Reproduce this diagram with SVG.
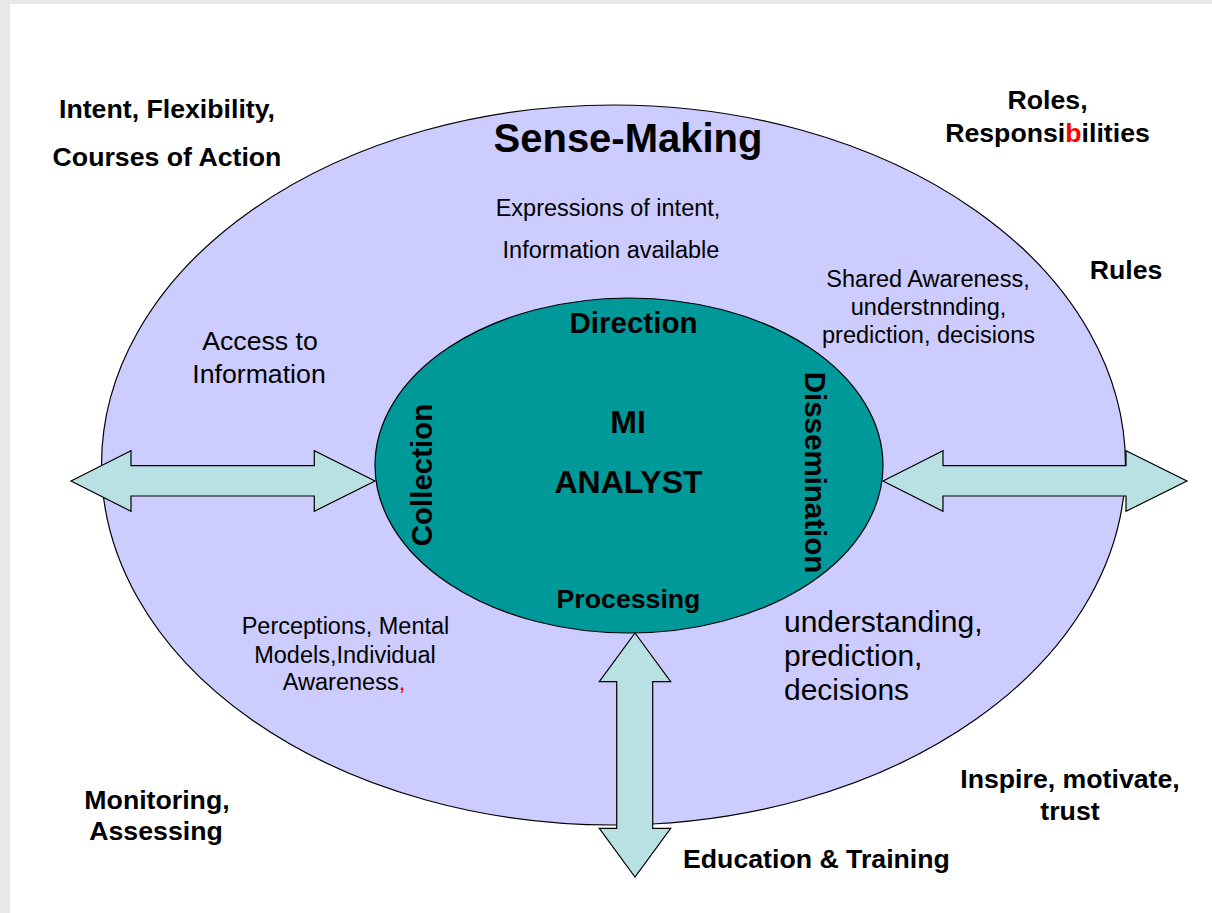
<svg xmlns="http://www.w3.org/2000/svg" width="1212" height="913" viewBox="0 0 1212 913">
<style>
text{font-family:"Liberation Sans",Arial,sans-serif;fill:#000}
.b{font-weight:bold}
.big{font-size:26.7px;font-weight:bold}
.sm{font-size:23.5px}
.red{fill:#ff0000}
.arrow{fill:#b9e0e3;stroke:#000;stroke-width:1.2}
</style>
<rect x="0" y="0" width="1212" height="913" fill="#e8e8e8"/>
<rect x="10" y="4" width="1202" height="909" fill="#ffffff"/>
<g id="sense-making">
<ellipse cx="613.5" cy="465" rx="512" ry="360" fill="#ccccff" stroke="#000" stroke-width="1.2"/>
<text x="628" y="152" font-size="40" class="b" text-anchor="middle">Sense-Making</text>
</g>
<g id="mi-analyst">
<ellipse cx="629" cy="465.5" rx="254" ry="167.5" fill="#009999" stroke="#000" stroke-width="1.2"/>
<text x="628" y="433" font-size="32" class="b" text-anchor="middle">MI</text>
<text x="628.5" y="493" font-size="32" class="b" text-anchor="middle">ANALYST</text>
<text x="633.5" y="333" font-size="29.5" class="b" text-anchor="middle">Direction</text>
<text x="628.5" y="608" font-size="26.7" class="b" text-anchor="middle">Processing</text>
<text transform="translate(432,475) rotate(-90)" font-size="29.5" class="b" text-anchor="middle">Collection</text>
<text transform="translate(805,472.5) rotate(90)" font-size="29.5" class="b" text-anchor="middle">Dissemination</text>
</g>
<g id="connectors">
<polygon class="arrow" points="71,481 131,450.7 131,465.7 314.3,465.7 314.3,450.7 375,481 314.3,511.3 314.3,496 131,496 131,511.3"/>
<polygon class="arrow" points="883,481 943,450.7 943,465.7 1126,465.7 1126,450.7 1187,481 1126,511.3 1126,496 943,496 943,511.3"/>
<polygon class="arrow" points="635,633 670.7,681.7 652.7,681.7 652.7,828.3 670.7,828.3 635,877 599.3,828.3 616.7,828.3 616.7,681.7 599.3,681.7"/>
</g>
<g id="label-intent">
<text x="167" y="118" class="big" text-anchor="middle">Intent, Flexibility,</text>
<text x="167" y="166" class="big" text-anchor="middle">Courses of Action</text>
</g>
<g id="label-roles">
<text x="1047.5" y="109" class="big" text-anchor="middle">Roles,</text>
<text x="1047.5" y="141.7" class="big" text-anchor="middle">Responsi<tspan class="red">b</tspan>ilities</text>
</g>
<g id="label-rules">
<text x="1126" y="279" class="big" text-anchor="middle">Rules</text>
</g>
<g id="label-monitoring">
<text x="157" y="809" class="big" text-anchor="middle">Monitoring,</text>
<text x="156" y="840" class="big" text-anchor="middle">Assessing</text>
</g>
<g id="label-inspire">
<text x="1070" y="788" class="big" text-anchor="middle">Inspire, motivate,</text>
<text x="1070" y="820" class="big" text-anchor="middle">trust</text>
</g>
<g id="label-education">
<text x="683" y="868" class="big">Education &amp; Training</text>
</g>
<g id="label-expressions">
<text x="608" y="216" class="sm" text-anchor="middle">Expressions of intent,</text>
<text x="611" y="258" class="sm" text-anchor="middle">Information available</text>
</g>
<g id="label-shared">
<text x="928" y="287" class="sm" text-anchor="middle">Shared Awareness,</text>
<text x="928.5" y="315" class="sm" text-anchor="middle">understnnding,</text>
<text x="928.5" y="343" class="sm" text-anchor="middle">prediction, decisions</text>
</g>
<g id="label-access">
<text x="260" y="350" font-size="26.7" text-anchor="middle">Access to</text>
<text x="259" y="383" font-size="26.7" text-anchor="middle">Information</text>
</g>
<g id="label-perceptions">
<text x="345.5" y="634" class="sm" text-anchor="middle">Perceptions, Mental</text>
<text x="345" y="663" class="sm" text-anchor="middle">Models,Individual</text>
<text x="344" y="690" class="sm" text-anchor="middle">Awareness<tspan class="red">,</tspan></text>
</g>
<g id="label-understanding">
<text x="784" y="632" font-size="30">understanding,</text>
<text x="784" y="666" font-size="30">prediction,</text>
<text x="784" y="700" font-size="30">decisions</text>
</g>
</svg>
